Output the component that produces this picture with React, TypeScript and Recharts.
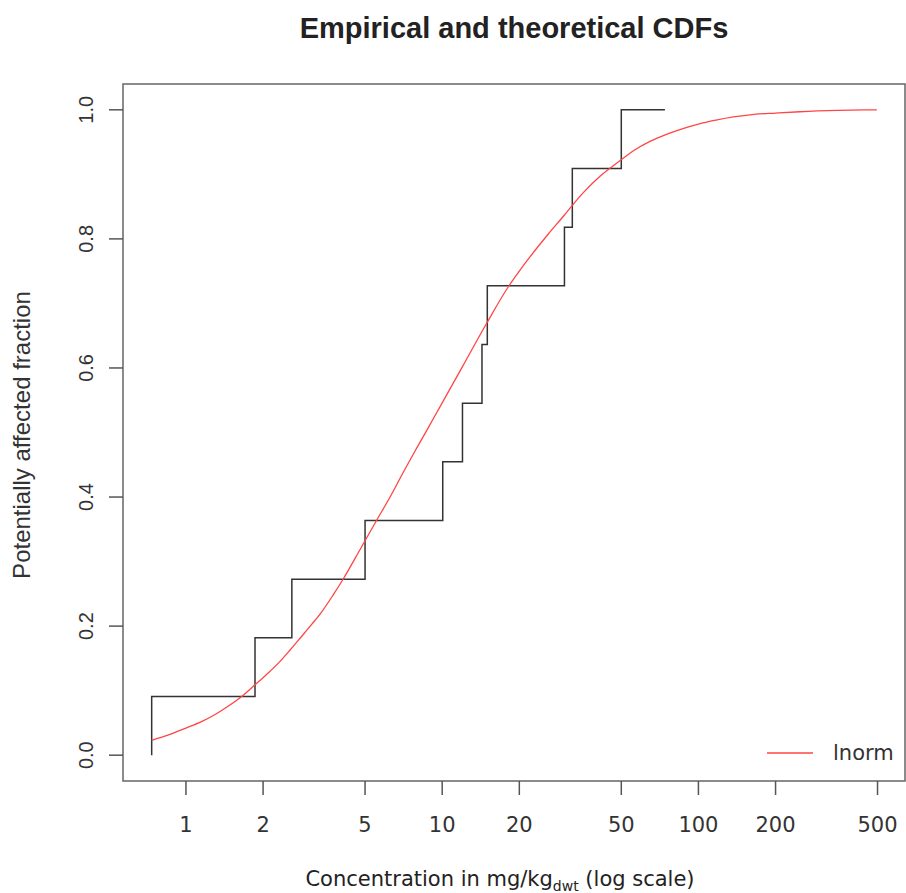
import React from 'react'
import { ComposedChart, Line, XAxis, YAxis, ReferenceArea } from 'recharts'

// empirical CDF (step points), concentration in mg/kg dwt
const ecdfConc = [0.735, 0.735, 1.86, 2.59, 5.0, 10.05, 12.0, 14.3, 15.0, 30.0, 32.2, 50.0, 74.0]
const ecdfFrac = [0, 0.0909, 0.1818, 0.2727, 0.3636, 0.4545, 0.5455, 0.6364, 0.7273, 0.8182, 0.9091, 1.0, 1.0]

// fitted lognormal CDF
const fitConc = [
  0.735, 0.85, 1.0, 1.15, 1.3, 1.45, 1.65, 1.86, 2.05, 2.3, 2.55, 2.8, 3.1, 3.4, 3.75, 4.11, 4.85, 5.55,
  6.3, 7.0, 7.7, 8.5, 10, 12, 14.8, 18.2, 20, 22, 26, 30, 32.2, 36, 41.3, 49.4, 56, 64.7, 75, 87, 100,
  117, 137, 165, 200, 249, 350, 497,
]
const fitFrac = [
  0.023, 0.031, 0.042, 0.052, 0.063, 0.075, 0.091, 0.109, 0.124, 0.143, 0.163, 0.182, 0.203, 0.223, 0.248,
  0.273, 0.323, 0.364, 0.402, 0.436, 0.466, 0.496, 0.546, 0.602, 0.667, 0.727, 0.75, 0.772, 0.808, 0.837,
  0.852, 0.874, 0.897, 0.921, 0.937, 0.951, 0.962, 0.971, 0.978, 0.984, 0.989, 0.993, 0.995, 0.997, 0.999, 1.0,
]

const xTicks = [1, 2, 5, 10, 20, 50, 100, 200, 500]
const yTicks = [0, 0.2, 0.4, 0.6, 0.8, 1.0]

const X_DOMAIN: [number, number] = [0.568, 640]
const Y_DOMAIN: [number, number] = [-0.04, 1.04]

const ecdfData = ecdfConc.map((x, i) => ({ x, y: ecdfFrac[i] }))
const fitData = fitConc.map((x, i) => ({ x, y: fitFrac[i] }))

const sans = '"Liberation Sans", Arial, sans-serif'
const dejavu = '"DejaVu Sans", Verdana, sans-serif'

function XTick({ x, y, payload }: any) {
  return (
    <text x={x} y={y + 30} textAnchor="middle" dominantBaseline="central" fontFamily={dejavu} fontSize={21} fill="#333">
      {payload.value}
    </text>
  )
}

function YTick({ x, y, payload }: any) {
  const cx = x - 23
  return (
    <text
      x={cx}
      y={y}
      transform={`rotate(-90, ${cx}, ${y})`}
      textAnchor="middle"
      dominantBaseline="central"
      fontFamily={sans}
      fontSize={20}
      fill="#333"
    >
      {Number(payload.value).toFixed(1)}
    </text>
  )
}

export default function App() {
  return (
    <div style={{ position: 'absolute', left: 0, top: 0, width: 906, height: 893, background: '#fff' }}>
      <div
        style={{
          position: 'absolute', left: 214, top: 0, width: 600, height: 56, lineHeight: '56px',
          textAlign: 'center', fontFamily: sans, fontWeight: 'bold', fontSize: 29, color: '#222',
        }}
      >
        Empirical and theoretical CDFs
      </div>
      <ComposedChart width={906} height={893} margin={{ top: 84, right: 1, bottom: 111, left: 122 }}>
        <XAxis
          dataKey="x"
          type="number"
          scale="log"
          domain={X_DOMAIN}
          ticks={xTicks}
          allowDataOverflow
          height={1}
          axisLine={false}
          tickSize={14}
          tickLine={{ stroke: '#555', strokeWidth: 1.5 }}
          tickMargin={0}
          tick={<XTick />}
          interval={0}
        />
        <YAxis
          dataKey="y"
          type="number"
          domain={Y_DOMAIN}
          ticks={yTicks}
          allowDataOverflow
          width={1}
          axisLine={false}
          tickSize={14}
          tickLine={{ stroke: '#555', strokeWidth: 1.5 }}
          tickMargin={0}
          tick={<YTick />}
          interval={0}
        />
        <ReferenceArea x1={X_DOMAIN[0]} x2={X_DOMAIN[1]} y1={Y_DOMAIN[0]} y2={Y_DOMAIN[1]} fill="none" stroke="#666" strokeWidth={1.5} ifOverflow="visible" />
        <Line data={ecdfData} dataKey="y" type="stepAfter" stroke="#333" strokeWidth={1.5} dot={false} legendType="none" isAnimationActive={false} />
        <Line data={fitData} dataKey="y" name="lnorm" type="monotone" stroke="#ff4545" strokeWidth={1.3} dot={false} isAnimationActive={false} />
      </ComposedChart>
      <div style={{ position: 'absolute', left: 767, top: 738, display: 'flex', alignItems: 'center', height: 30 }}>
        <svg width={46} height={6}>
          <line x1={0} y1={3} x2={46} y2={3} stroke="#ff4545" strokeWidth={1.5} />
        </svg>
        <span style={{ marginLeft: 20, fontFamily: dejavu, fontSize: 21, color: '#333' }}>lnorm</span>
      </div>
      <div
        style={{
          position: 'absolute', left: -178, top: 435 - 15, width: 400, height: 30, lineHeight: '30px',
          textAlign: 'center', transform: 'rotate(-90deg)',
          fontFamily: sans, fontSize: 24, color: '#333',
        }}
      >
        Potentially affected fraction
      </div>
      <div
        style={{
          position: 'absolute', left: 200, top: 864, width: 600, height: 30, lineHeight: '30px',
          textAlign: 'center', fontFamily: dejavu, fontSize: 21, color: '#222',
        }}
      >
        Concentration in mg/kg<sub style={{ fontSize: 14, lineHeight: 0 }}>dwt</sub> (log scale)
      </div>
    </div>
  )
}
